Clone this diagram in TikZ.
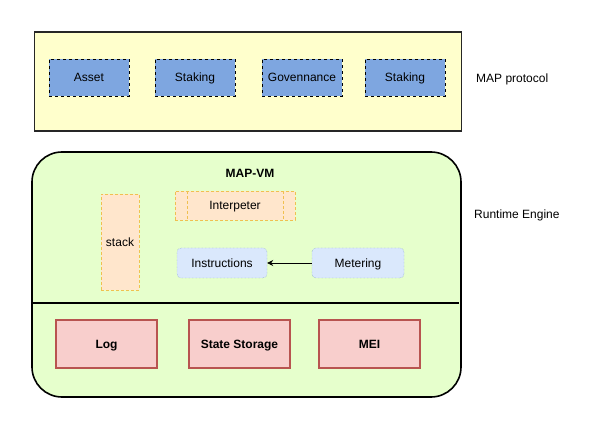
\documentclass[tikz,border=0pt]{standalone}
\usepackage{fontspec}
\setmainfont{Liberation Sans}
\usetikzlibrary{arrows.meta,shapes.misc}
\definecolor{protofill}{HTML}{FFFFCC}
\definecolor{bluefill}{HTML}{7EA6E0}
\definecolor{greenfill}{HTML}{E6FFCC}
\definecolor{orangefill}{HTML}{FFE6CC}
\definecolor{orangeline}{HTML}{F0C050}
\definecolor{lightblue}{HTML}{DAE8FC}
\definecolor{blueline}{HTML}{6C8EBF}
\definecolor{redfill}{HTML}{F8CECC}
\definecolor{redline}{HTML}{B85450}
\tikzset{
  every node/.style={font=\fontsize{12}{14}\selectfont, inner sep=0pt, text height=10pt, text depth=1.2pt},
  module/.style={draw=black, fill=bluefill, dashed, minimum width=80pt, minimum height=37pt},
  vmpart/.style={draw=blueline, fill=lightblue, densely dotted, rounded corners=4pt, minimum height=30pt},
  storebox/.style={draw=redline, fill=redfill, line width=1.4pt, minimum width=101pt, minimum height=48pt, font=\fontsize{12}{14}\selectfont\bfseries},
  orangebox/.style={draw=orangeline, fill=orangefill, densely dashed},
  sidelabel/.style={anchor=west},
}
\begin{document}
\begin{tikzpicture}[x=1pt,y=-1pt]
\useasboundingbox (0,0) rectangle (615,427);
% MAP protocol container
\node[draw=black!85, line width=1.6pt, fill=protofill, minimum width=427pt, minimum height=99pt] (proto) at (248,81.5) {};
\node[module] (asset) at (89,77.5) {Asset};
\node[module] (staking1) at (195,77.5) {Staking};
\node[module] (gov) at (302,77.5) {Govennance};
\node[module] (staking2) at (405,77.5) {Staking};
\node[sidelabel] (protolabel) at (476,78) {MAP protocol};
% Runtime engine container
\node[draw=black, line width=1.6pt, fill=greenfill, rounded corners=30pt, minimum width=429pt, minimum height=245pt] (runtime) at (246.5,274.5) {};
\node[sidelabel] (runtimelabel) at (474,214) {Runtime Engine};
\node[font=\fontsize{12}{14}\selectfont\bfseries] (mapvm) at (250,173) {MAP-VM};
% interpreter (process shape)
\node[orangebox, minimum width=120pt, minimum height=29pt] (interp) at (235,205.5) {Interpeter};
\draw[orangeline, densely dashed] ([xshift=12pt]interp.north west) -- ([xshift=12pt]interp.south west);
\draw[orangeline, densely dashed] ([xshift=-12pt]interp.north east) -- ([xshift=-12pt]interp.south east);
% stack
\node[orangebox, minimum width=38pt, minimum height=96pt] (stack) at (120,242) {stack};
% instructions / metering
\node[vmpart, minimum width=90pt] (instr) at (222,263) {Instructions};
\node[vmpart, minimum width=92pt] (meter) at (358,263) {Metering};
\draw[-{Stealth[length=6pt,width=6pt,inset=2pt]}, line width=0.8pt] (meter.west) -- (instr.east);
% divider
\coordinate (divL) at (runtime.west |- 0,303);
\coordinate (divR) at ([xshift=-3pt]runtime.east |- 0,303);
\draw[line width=1.6pt] (divL) -- (divR);
% storage boxes
\node[storebox] (log) at (106.5,344) {Log};
\node[storebox] (state) at (239.5,344) {State Storage};
\node[storebox] (mei) at (369.5,344) {MEI};
\end{tikzpicture}
\end{document}
